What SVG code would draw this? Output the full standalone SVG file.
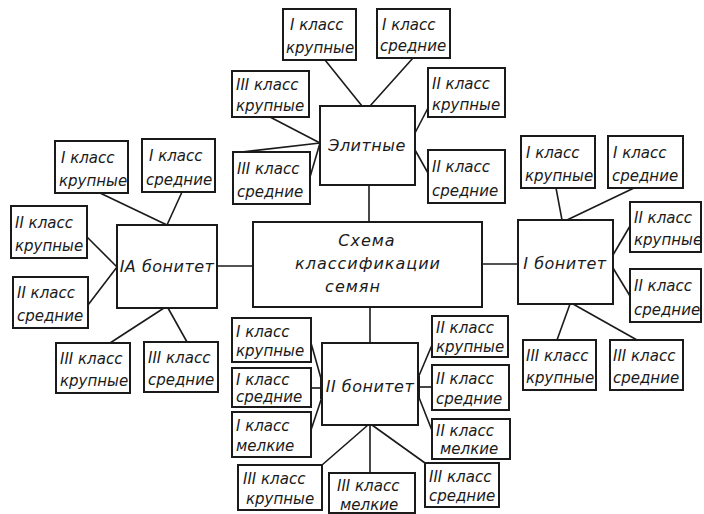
<svg xmlns="http://www.w3.org/2000/svg" width="704" height="514" viewBox="0 0 704 514">
<style>
  rect.b { fill: #ffffff; stroke: #1a1a1a; stroke-width: 2; }
  text { font-family: "DejaVu Sans", "Liberation Sans", sans-serif; font-style: oblique; fill: #1a1a1a; }
  text.s { font-size: 15px; }
  text.m { font-size: 16px; letter-spacing: 0.5px; text-anchor: middle; }
  text.c { font-size: 16px; letter-spacing: 1px; text-anchor: middle; }
  #connectors line { stroke: #1a1a1a; stroke-width: 1.6; }
  #connectors line.k { stroke-width: 4; }
</style>
<rect x="0" y="0" width="704" height="514" fill="#ffffff"/>
<g id="connectors">
  <line x1="369" y1="185" x2="369" y2="222"/>
  <line x1="217" y1="266" x2="253" y2="266"/>
  <line x1="482" y1="264" x2="518" y2="264"/>
  <line x1="370" y1="307" x2="370" y2="343"/>
  <line x1="325" y1="60" x2="362" y2="106"/>
  <line x1="413" y1="58" x2="370" y2="106"/>
  <line x1="270" y1="117" x2="320" y2="143"/>
  <line x1="233" y1="153" x2="320" y2="143"/>
  <line x1="310" y1="177" x2="320" y2="143"/>
  <line x1="415" y1="133" x2="428" y2="108"/>
  <line x1="415" y1="150" x2="428" y2="173"/>
  <line x1="100" y1="193" x2="167" y2="225"/>
  <line x1="182" y1="192" x2="167" y2="225"/>
  <line x1="87" y1="237" x2="117" y2="267"/>
  <line x1="88" y1="305" x2="117" y2="267"/>
  <line x1="164" y1="308" x2="110" y2="343"/>
  <line x1="168" y1="308" x2="187" y2="342"/>
  <line x1="556" y1="188" x2="562" y2="220"/>
  <line x1="634" y1="188" x2="567" y2="220"/>
  <line x1="613" y1="255" x2="630" y2="226"/>
  <line x1="613" y1="268" x2="630" y2="296"/>
  <line x1="570" y1="304" x2="557" y2="340"/>
  <line x1="573" y1="304" x2="637" y2="340"/>
  <line x1="311" y1="343" x2="322" y2="382"/>
  <line x1="311" y1="388" x2="322" y2="388"/>
  <line x1="311" y1="430" x2="322" y2="397"/>
  <line class="k" x1="322" y1="376" x2="322" y2="399"/>
  <line x1="418" y1="378" x2="432" y2="345"/>
  <line x1="418" y1="387" x2="432" y2="387"/>
  <line x1="418" y1="395" x2="433" y2="433"/>
  <line class="k" x1="418" y1="376" x2="418" y2="399"/>
  <line x1="368" y1="425" x2="322" y2="465"/>
  <line x1="370" y1="425" x2="370" y2="473"/>
  <line x1="372" y1="425" x2="425" y2="463"/>
</g>
<g id="center"><rect class="b" x="253" y="222" width="229" height="85"/>
  <text class="c" x="367" y="246">Схема</text>
  <text class="c" x="368" y="269">классификации</text>
  <text class="c" x="353" y="292">семян</text></g>
<g id="elite"><rect class="b" x="320" y="106" width="95" height="79"/><text class="m" x="367" y="151">Элитные</text></g>
<g id="e1"><rect class="b" x="283" y="9" width="73" height="51"/><text class="s" x="290" y="30">I класс</text><text class="s" x="286" y="53">крупные</text></g>
<g id="e2"><rect class="b" x="377" y="9" width="73" height="49"/><text class="s" x="382" y="30">I класс</text><text class="s" x="380" y="51">средние</text></g>
<g id="e3"><rect class="b" x="232" y="71" width="77" height="46"/><text class="s" x="236" y="90">III класс</text><text class="s" x="236" y="111">крупные</text></g>
<g id="e4"><rect class="b" x="233" y="152" width="77" height="52"/><text class="s" x="237" y="174">III класс</text><text class="s" x="237" y="197">средние</text></g>
<g id="e5"><rect class="b" x="428" y="68" width="77" height="49"/><text class="s" x="432" y="89">II класс</text><text class="s" x="432" y="110">крупные</text></g>
<g id="e6"><rect class="b" x="428" y="150" width="77" height="53"/><text class="s" x="432" y="172">II класс</text><text class="s" x="432" y="196">средние</text></g>
<g id="ia"><rect class="b" x="117" y="225" width="100" height="83"/><text class="m" x="167" y="272">IA бонитет</text></g>
<g id="a1"><rect class="b" x="55" y="141" width="73" height="52"/><text class="s" x="61" y="163">I класс</text><text class="s" x="59" y="186">крупные</text></g>
<g id="a2"><rect class="b" x="142" y="139" width="73" height="53"/><text class="s" x="149" y="161">I класс</text><text class="s" x="146" y="185">средние</text></g>
<g id="a3"><rect class="b" x="11" y="206" width="76" height="52"/><text class="s" x="15" y="228">II класс</text><text class="s" x="15" y="251">крупные</text></g>
<g id="a4"><rect class="b" x="13" y="277" width="75" height="51"/><text class="s" x="17" y="298">II класс</text><text class="s" x="17" y="321">средние</text></g>
<g id="a5"><rect class="b" x="56" y="343" width="74" height="50"/><text class="s" x="60" y="364">III класс</text><text class="s" x="60" y="386">крупные</text></g>
<g id="a6"><rect class="b" x="144" y="342" width="74" height="50"/><text class="s" x="148" y="363">III класс</text><text class="s" x="148" y="385">средние</text></g>
<g id="i"><rect class="b" x="518" y="220" width="95" height="84"/><text class="m" x="565" y="269">I бонитет</text></g>
<g id="b1"><rect class="b" x="521" y="136" width="74" height="52"/><text class="s" x="526" y="158">I класс</text><text class="s" x="525" y="181">крупные</text></g>
<g id="b2"><rect class="b" x="608" y="136" width="75" height="52"/><text class="s" x="613" y="158">I класс</text><text class="s" x="612" y="181">средние</text></g>
<g id="b3"><rect class="b" x="630" y="202" width="71" height="50"/><text class="s" x="634" y="223">II класс</text><text class="s" x="634" y="245">крупные</text></g>
<g id="b4"><rect class="b" x="630" y="269" width="71" height="53"/><text class="s" x="634" y="291">II класс</text><text class="s" x="634" y="315">средние</text></g>
<g id="b5"><rect class="b" x="523" y="340" width="73" height="50"/><text class="s" x="526" y="361">III класс</text><text class="s" x="526" y="383">крупные</text></g>
<g id="b6"><rect class="b" x="610" y="340" width="73" height="50"/><text class="s" x="613" y="361">III класс</text><text class="s" x="613" y="383">средние</text></g>
<g id="ii"><rect class="b" x="322" y="343" width="96" height="82"/><text class="m" x="370" y="392">II бонитет</text></g>
<g id="c1"><rect class="b" x="232" y="318" width="79" height="44"/><text class="s" x="236" y="337">I класс</text><text class="s" x="236" y="356">крупные</text></g>
<g id="c2"><rect class="b" x="232" y="368" width="79" height="39"/><text class="s" x="236" y="385">I класс</text><text class="s" x="236" y="402">средние</text></g>
<g id="c3"><rect class="b" x="232" y="412" width="79" height="45"/><text class="s" x="236" y="431">I класс</text><text class="s" x="236" y="451">мелкие</text></g>
<g id="c4"><rect class="b" x="238" y="465" width="84" height="45"/><text class="s" x="243" y="484">III класс</text><text class="s" x="246" y="504">крупные</text></g>
<g id="c5"><rect class="b" x="329" y="473" width="86" height="40"/><text class="s" x="337" y="491">III класс</text><text class="s" x="340" y="510">мелкие</text></g>
<g id="c6"><rect class="b" x="432" y="316" width="76" height="41"/><text class="s" x="436" y="333">II класс</text><text class="s" x="436" y="352">крупные</text></g>
<g id="c7"><rect class="b" x="432" y="365" width="77" height="45"/><text class="s" x="436" y="384">II класс</text><text class="s" x="436" y="404">средние</text></g>
<g id="c8"><rect class="b" x="432" y="419" width="78" height="40"/><text class="s" x="436" y="436">II класс</text><text class="s" x="440" y="454">мелкие</text></g>
<g id="c9"><rect class="b" x="425" y="463" width="74" height="44"/><text class="s" x="429" y="482">III класс</text><text class="s" x="429" y="501">средние</text></g>
</svg>
